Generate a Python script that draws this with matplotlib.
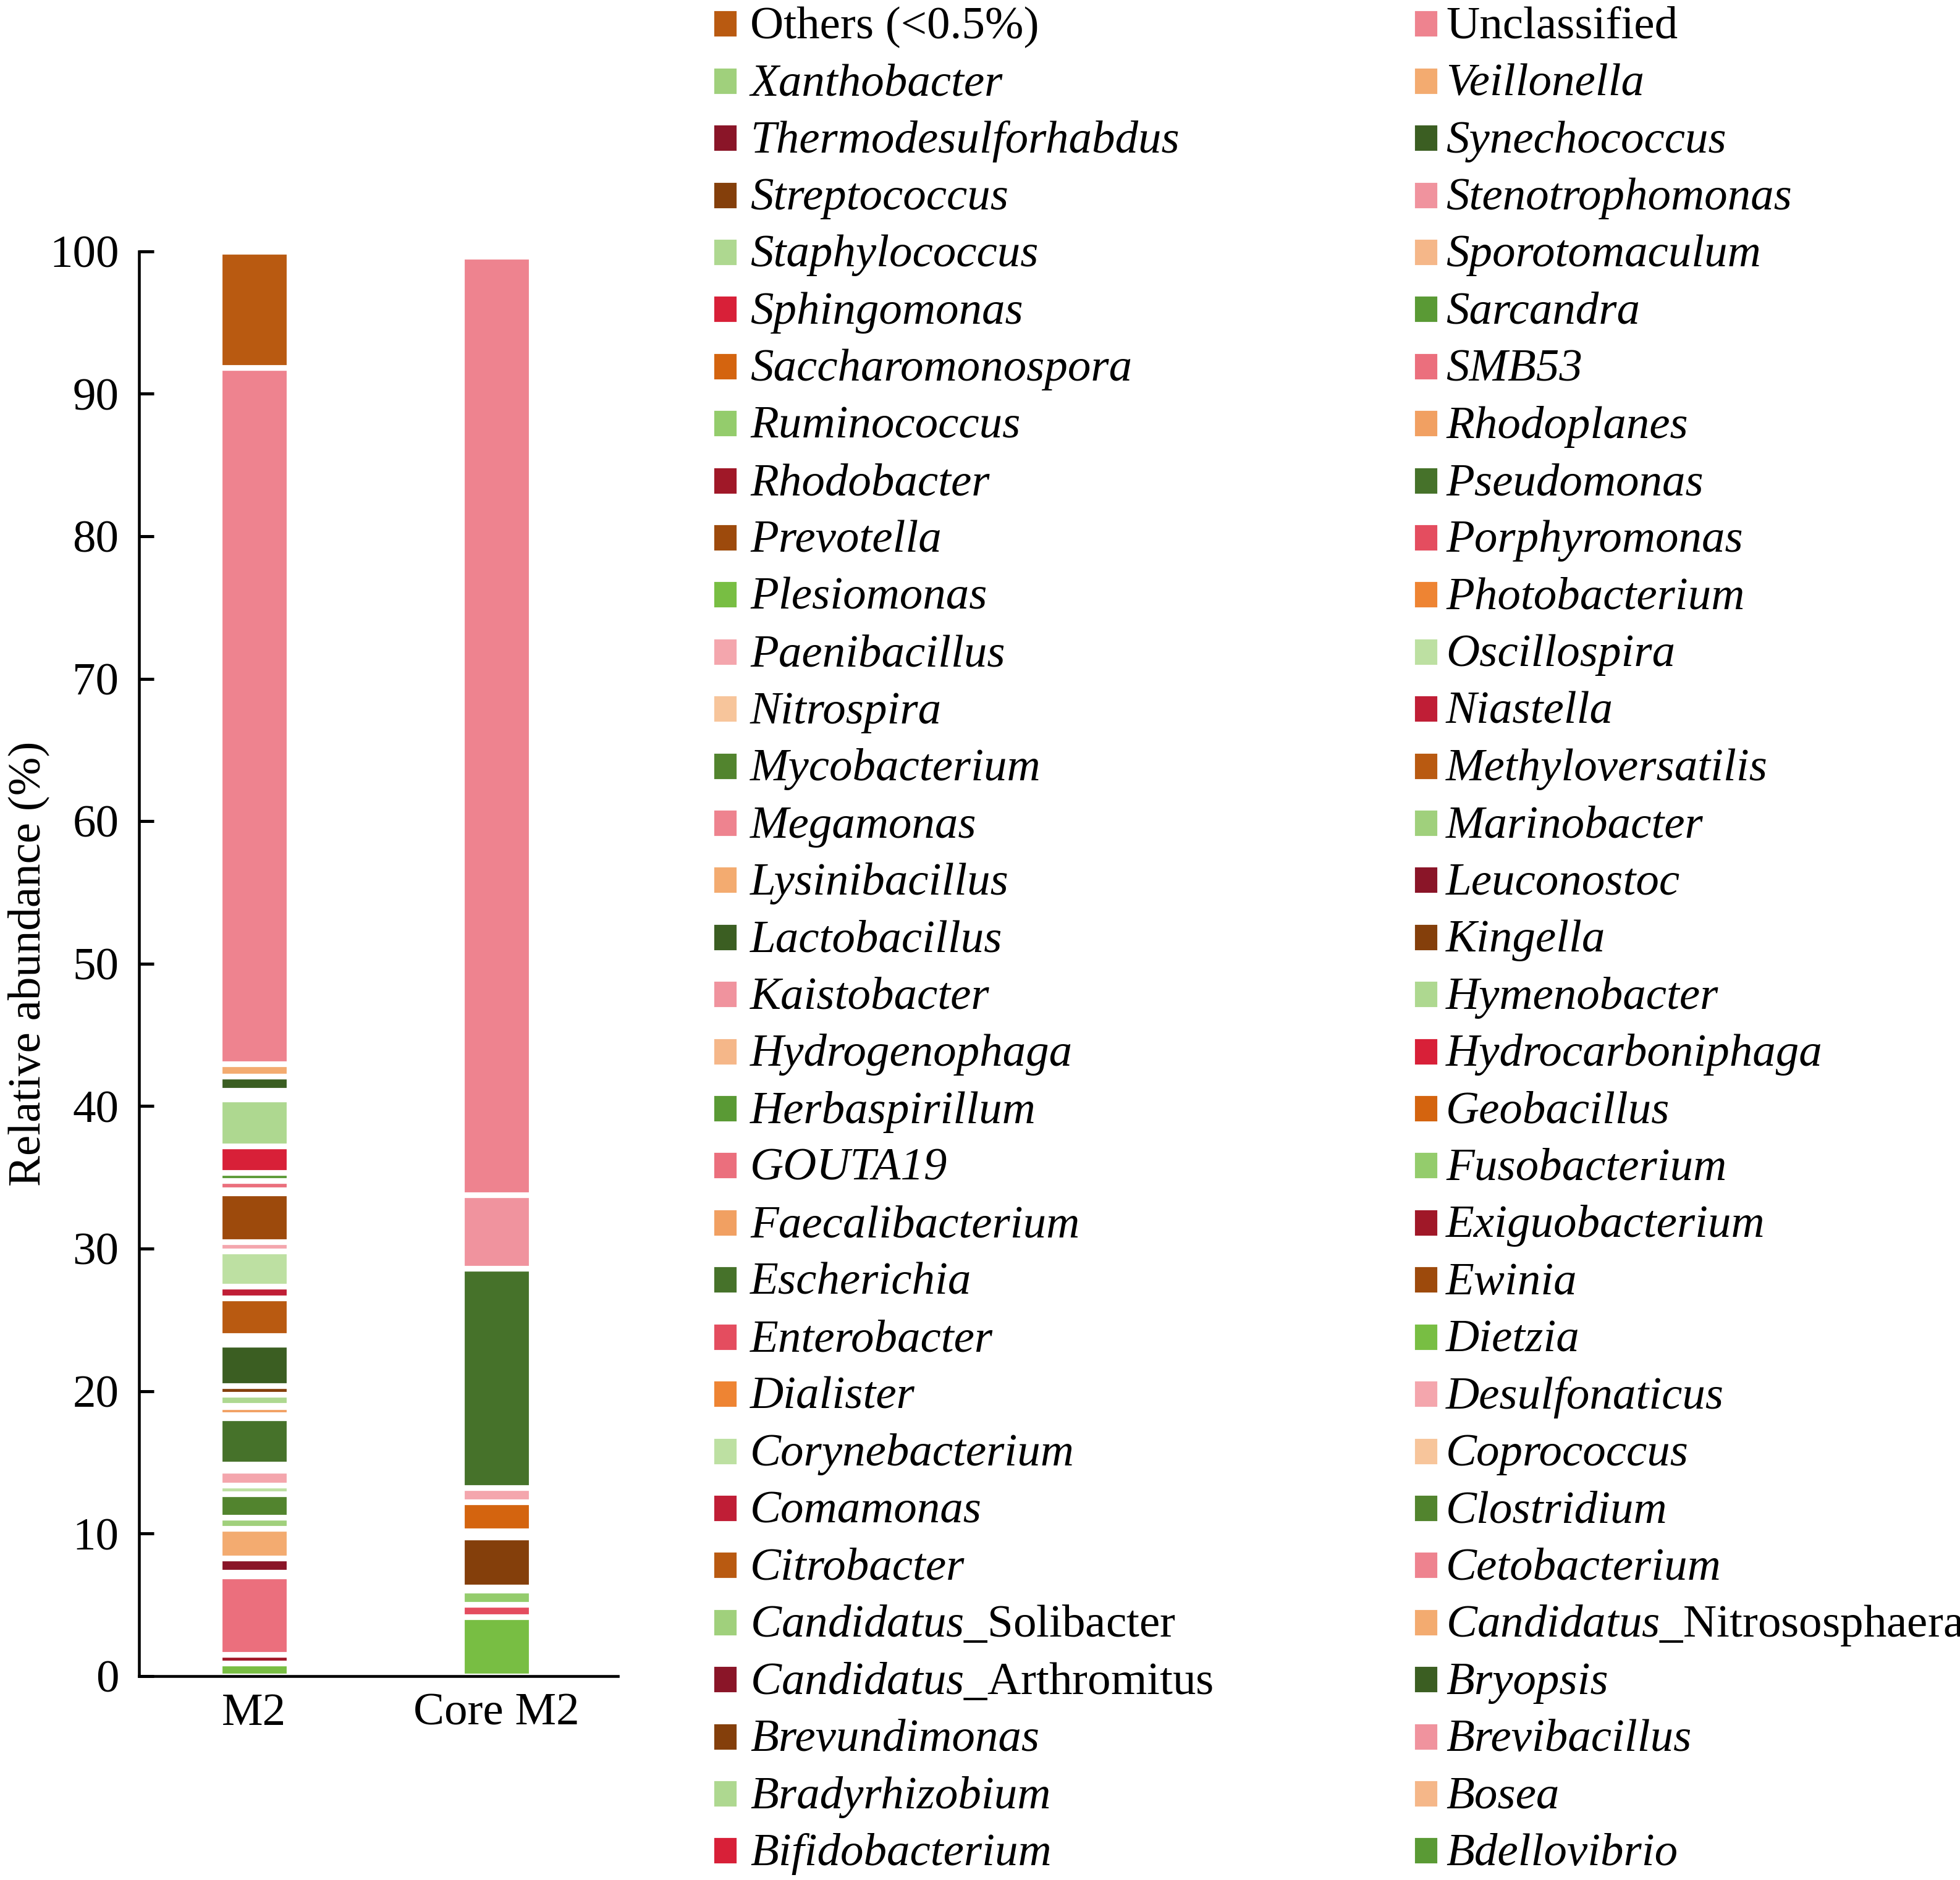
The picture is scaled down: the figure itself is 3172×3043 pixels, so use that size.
import matplotlib
matplotlib.use('Agg')
import matplotlib.pyplot as plt
from matplotlib.patches import Rectangle

plt.rcParams['font.family'] = ['Liberation Serif', 'DejaVu Serif']
plt.rcParams['mathtext.fontset'] = 'custom'
plt.rcParams['mathtext.rm'] = 'Liberation Serif'
plt.rcParams['mathtext.it'] = 'Liberation Serif:italic'

# Samples on the x axis
samples = ['M2', 'Core M2']

# Legend entries, read row by row (left column, right column)
genera = [
    'Others (<0.5%)', 'Unclassified', 'Xanthobacter', 'Veillonella',
    'Thermodesulforhabdus', 'Synechococcus', 'Streptococcus', 'Stenotrophomonas',
    'Staphylococcus', 'Sporotomaculum', 'Sphingomonas', 'Sarcandra',
    'Saccharomonospora', 'SMB53', 'Ruminococcus', 'Rhodoplanes',
    'Rhodobacter', 'Pseudomonas', 'Prevotella', 'Porphyromonas',
    'Plesiomonas', 'Photobacterium', 'Paenibacillus', 'Oscillospira',
    'Nitrospira', 'Niastella', 'Mycobacterium', 'Methyloversatilis',
    'Megamonas', 'Marinobacter', 'Lysinibacillus', 'Leuconostoc',
    'Lactobacillus', 'Kingella', 'Kaistobacter', 'Hymenobacter',
    'Hydrogenophaga', 'Hydrocarboniphaga', 'Herbaspirillum', 'Geobacillus',
    'GOUTA19', 'Fusobacterium', 'Faecalibacterium', 'Exiguobacterium',
    'Escherichia', 'Ewinia', 'Enterobacter', 'Dietzia',
    'Dialister', 'Desulfonaticus', 'Corynebacterium', 'Coprococcus',
    'Comamonas', 'Clostridium', 'Citrobacter', 'Cetobacterium',
    'Candidatus_Solibacter', 'Candidatus_Nitrososphaera', 'Candidatus_Arthromitus', 'Bryopsis',
    'Brevundimonas', 'Brevibacillus', 'Bradyrhizobium', 'Bosea',
    'Bifidobacterium', 'Bdellovibrio',
]

# 27 colour cycle used by the legend
palette = [
    '#B95A11', '#EE838F', '#A0D07C', '#F3AB70', '#8A1528', '#3B5E22', '#843F0B',
    '#F0939E', '#AED890', '#F5B789', '#D82038', '#5A9A35', '#D4640F', '#EB6F7D',
    '#94CC6C', '#F1A062', '#A01828', '#46722A', '#9D4A0C', '#E44D5F', '#78BE43',
    '#EE8433', '#F4A6AD', '#BDE0A2', '#F7C59B', '#C01E36', '#52842E',
]

# M2 bar, bottom to top (%)
m2_taxa = [
    'Dietzia', 'Exiguobacterium', 'GOUTA19', 'Brevibacillus',
    'Candidatus_Arthromitus', 'Candidatus_Nitrososphaera', 'Candidatus_Solibacter',
    'Clostridium', 'Corynebacterium', 'Desulfonaticus', 'Dialister', 'Enterobacter',
    'Escherichia', 'Ewinia', 'Faecalibacterium', 'Herbaspirillum', 'Hymenobacter',
    'Kingella', 'Lactobacillus', 'Leuconostoc', 'Lysinibacillus', 'Methyloversatilis',
    'Niastella', 'Oscillospira', 'Paenibacillus', 'Prevotella', 'Rhodobacter',
    'SMB53', 'Sarcandra', 'Sphingomonas', 'Staphylococcus', 'Stenotrophomonas',
    'Streptococcus', 'Synechococcus', 'Veillonella', 'Unclassified', 'Others (<0.5%)',
]
m2_values = [
    0.89, 0.64, 5.50, 0.26,
    1.00, 2.06, 0.81,
    1.63, 0.61, 1.06, 0.20, 0.21,
    3.25, 0.20, 0.58, 0.09, 0.78,
    0.61, 2.91, 0.31, 0.30, 2.65,
    0.82, 2.46, 0.64, 3.44, 0.21,
    0.65, 0.57, 1.88, 3.29, 0.29,
    0.29, 1.03, 0.85, 48.86, 8.17,
]

# Core M2 bar, bottom to top (%)
core_taxa = [
    'Dietzia', 'Enterobacter', 'Fusobacterium', 'Herbaspirillum', 'Kingella',
    'Lactobacillus', 'Leuconostoc', 'Geobacillus', 'Paenibacillus', 'Pseudomonas',
    'Stenotrophomonas', 'Unclassified',
]
core_values = [
    4.17, 0.87, 0.98, 0.22, 3.50,
    0.22, 0.22, 2.03, 1.01, 15.40,
    5.15, 65.87,
]

colors = {g: palette[i % len(palette)] for i, g in enumerate(genera)}

W, H = 3172, 3043
fig = plt.figure(figsize=(W / 300, H / 300), dpi=300)
ax = fig.add_axes([224.5 / W, 1 - 2713 / H, 775.5 / W, (2713 - 406.7) / H])

# stacked bars, white edges separate the segments
for x, taxa, vals in [(0, m2_taxa, m2_values), (1, core_taxa, core_values)]:
    bottom = 0
    for t, v in zip(taxa, vals):
        ax.bar(x, v, bottom=bottom, width=0.287, color=colors[t],
               edgecolor='white', linewidth=2.2)
        bottom += v

ax.set_xlim(-0.476, 1.5)
ax.set_ylim(0, 100)
ax.set_yticks(range(0, 101, 10))
ax.set_xticks([0, 1], samples)
for s in ['top', 'right']:
    ax.spines[s].set_visible(False)
for s in ['left', 'bottom']:
    ax.spines[s].set_linewidth(1.1)
ax.tick_params(axis='y', direction='in', length=5.8, width=1.2, pad=7.7, labelsize=18)
ax.tick_params(axis='x', length=0, pad=6.5, labelsize=18)
ax.set_ylabel('Relative abundance (%)', fontsize=18)
ax.yaxis.set_label_coords(-0.186, 0.5)

# legend drawn by hand in two columns
sw_x = [1158, 2292]
tx_x = [1214, 2340]
for i, g in enumerate(genera):
    r, c = divmod(i, 2)
    cy = 38.8 + r * 92.41
    fig.patches.append(Rectangle((sw_x[c] / W, 1 - (cy + 18.5) / H), 32 / W, 37 / H,
                                 transform=fig.transFigure, color=colors[g], figure=fig))
    style = 'italic'
    label = g
    if g.startswith('Candidatus_'):
        label = r'$\mathit{Candidatus}$_' + g.split('_')[1]
        style = 'normal'
    elif g in ('Others (<0.5%)', 'Unclassified'):
        style = 'normal'
    fig.text(tx_x[c] / W, 1 - (cy + 23) / H, label, fontsize=18, style=style,
             ha='left', va='baseline')

fig.savefig('out.png', dpi=300)
